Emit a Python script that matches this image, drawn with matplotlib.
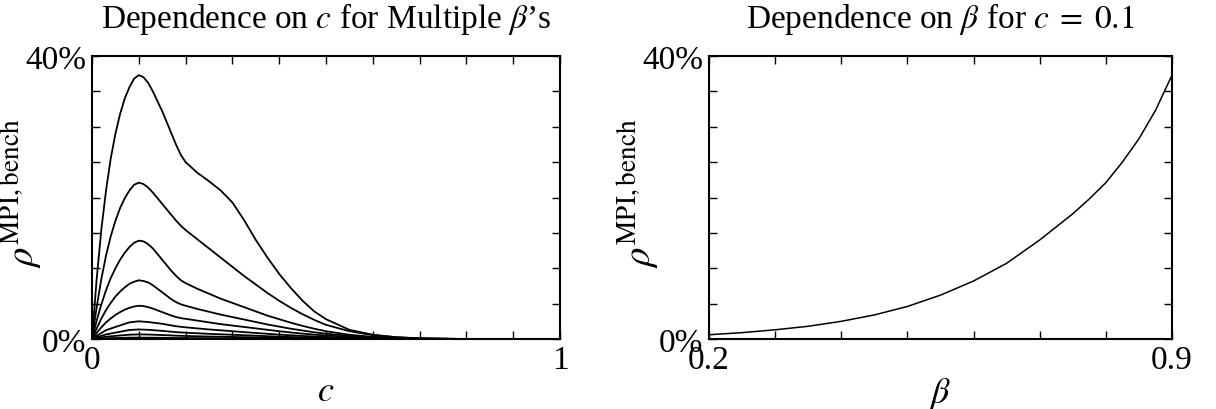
import numpy as np
import matplotlib
matplotlib.use("Agg")
import matplotlib.pyplot as plt
from matplotlib.ticker import FixedLocator, MultipleLocator

plt.rcParams['font.family'] = ['Liberation Serif', 'DejaVu Serif']
plt.rcParams['mathtext.fontset'] = 'stix'

# left panel: rho (%) vs c, one curve per beta (0.9 at the top ... 0.1 at the bottom)
c_fine = [0, 0.01, 0.02, 0.03, 0.04, 0.05, 0.06, 0.07, 0.08, 0.09, 0.1,
          0.11, 0.12, 0.13, 0.14, 0.15, 0.16, 0.17, 0.18, 0.19, 0.2,
          0.225, 0.25, 0.275, 0.3, 0.325, 0.35, 0.375, 0.4, 0.425, 0.45,
          0.475, 0.5, 0.55, 0.6, 0.65, 0.7, 0.8, 1.0]
rho_b09 = [0, 8.5, 15.5, 21.0, 25.5, 29.0, 31.8, 34.0, 35.6, 36.8, 37.3,
           37.0, 36.2, 35.0, 33.6, 32.2, 30.6, 29.0, 27.4, 26.0, 25.0,
           23.5, 22.3, 21.0, 19.3, 16.8, 14.0, 11.5, 9.2, 7.2, 5.4,
           3.9, 2.8, 1.3, 0.6, 0.25, 0.08, 0, 0]
rho_b08 = [0, 4.5, 8.5, 11.8, 14.5, 16.7, 18.5, 19.9, 21.0, 21.8, 22.1,
           21.9, 21.4, 20.7, 19.9, 19.1, 18.3, 17.5, 16.7, 16.0, 15.4,
           14.1, 12.8, 11.5, 10.2, 8.9, 7.7, 6.5, 5.4, 4.4, 3.5,
           2.7, 2.0, 1.1, 0.55, 0.25, 0.1, 0, 0]
rho_b07 = [0, 2.6, 4.9, 6.9, 8.6, 10.0, 11.2, 12.2, 13.0, 13.6, 13.9,
           13.8, 13.4, 12.8, 12.0, 11.2, 10.4, 9.6, 8.9, 8.3, 7.9,
           7.1, 6.4, 5.7, 5.1, 4.5, 3.9, 3.3, 2.8, 2.3, 1.85,
           1.45, 1.1, 0.6, 0.3, 0.14, 0.05, 0, 0]
rho_b06 = [0, 1.5, 2.9, 4.1, 5.1, 6.0, 6.7, 7.3, 7.8, 8.1, 8.3,
           8.2, 8.0, 7.6, 7.1, 6.6, 6.1, 5.6, 5.2, 4.9, 4.7,
           4.25, 3.85, 3.45, 3.1, 2.75, 2.4, 2.05, 1.75, 1.45, 1.2,
           0.95, 0.75, 0.45, 0.25, 0.1, 0.04, 0, 0]
rho_b05 = [0, 0.85, 1.65, 2.35, 2.9, 3.4, 3.8, 4.15, 4.4, 4.6, 4.7,
           4.65, 4.5, 4.3, 4.05, 3.8, 3.55, 3.3, 3.1, 2.95, 2.85,
           2.6, 2.35, 2.1, 1.9, 1.7, 1.5, 1.3, 1.1, 0.92, 0.76,
           0.62, 0.5, 0.3, 0.15, 0.07, 0.03, 0, 0]

c_coarse = [0, 0.01, 0.02, 0.03, 0.05, 0.08, 0.1, 0.12, 0.15, 0.18, 0.2,
            0.25, 0.3, 0.35, 0.4, 0.45, 0.5, 0.55, 0.6, 0.65, 0.7, 0.8, 1.0]
rho_b04 = [0, 0.45, 0.85, 1.25, 1.7, 2.35, 2.5, 2.4, 2.15, 1.8, 1.65,
           1.35, 1.1, 0.85, 0.62, 0.43, 0.28, 0.17, 0.09, 0.04, 0.02, 0, 0]
rho_b03 = [0, 0.24, 0.45, 0.65, 0.9, 1.27, 1.35, 1.3, 1.15, 0.97, 0.89,
           0.73, 0.6, 0.46, 0.33, 0.23, 0.15, 0.09, 0.05, 0.02, 0.01, 0, 0]
rho_b02 = [0, 0.12, 0.22, 0.32, 0.44, 0.61, 0.65, 0.63, 0.56, 0.47, 0.43,
           0.35, 0.29, 0.22, 0.16, 0.11, 0.07, 0.04, 0.02, 0.01, 0, 0, 0]
rho_b01 = [0, 0.04, 0.07, 0.1, 0.14, 0.19, 0.2, 0.19, 0.17, 0.14, 0.13,
           0.11, 0.09, 0.07, 0.05, 0.03, 0.02, 0.01, 0, 0, 0, 0, 0]

fine_curves = [rho_b09, rho_b08, rho_b07, rho_b06, rho_b05]
coarse_curves = [rho_b04, rho_b03, rho_b02, rho_b01]

# right panel: rho (%) vs beta at c = 0.1
beta_grid = [0.2, 0.25, 0.3, 0.35, 0.4, 0.45, 0.5, 0.55, 0.6, 0.65, 0.7,
             0.75, 0.775, 0.8, 0.825, 0.85, 0.875, 0.9]
rho_c01 = [0.6, 0.9, 1.3, 1.8, 2.5, 3.4, 4.6, 6.2, 8.2, 10.7, 14.0,
           17.7, 19.8, 22.1, 25.0, 28.3, 32.3, 37.3]

W, H = 1216, 410
fig = plt.figure(figsize=(W / 100, H / 100), dpi=100)
ax1 = fig.add_axes([92 / W, 1 - 340 / H, (560 - 92) / W, (340 - 57) / H])
ax2 = fig.add_axes([709 / W, 1 - 340 / H, (1172 - 709) / W, (340 - 57) / H])

for y in fine_curves:
    ax1.plot(c_fine, y, color='black', lw=1.3)
for y in coarse_curves:
    ax1.plot(c_coarse, y, color='black', lw=1.3)
ax2.plot(beta_grid, rho_c01, color='black', lw=1.1)


def style(ax, xlo, xhi, xstep, xlabels):
    ax.set_xlim(xlo, xhi)
    ax.set_ylim(0, 40)
    ax.xaxis.set_major_locator(FixedLocator([xlo, xhi]))
    ax.set_xticklabels(xlabels)
    ax.xaxis.set_minor_locator(MultipleLocator(xstep))
    ax.yaxis.set_major_locator(FixedLocator([0, 40]))
    ax.set_yticklabels(['0%', '40%'])
    ax.yaxis.set_minor_locator(MultipleLocator(5))
    ax.tick_params(which='both', direction='in', top=True, right=True,
                   length=6, width=1, labelsize=24, pad=4)
    for s in ax.spines.values():
        s.set_linewidth(1.5)
    ax.set_ylabel(r'$\rho^{\mathrm{MPI,bench}}$', fontsize=28)
    w = ax.get_position().width * W
    ax.yaxis.set_label_coords(-48 / w, 0.52)


style(ax1, 0, 1, 0.1, ['0', '1'])
style(ax2, 0.2, 0.9, 0.1, ['0.2', '0.9'])
ax1.set_xlabel(r'$c$', fontsize=26, labelpad=0)
ax2.set_xlabel(r'$\beta$', fontsize=26, labelpad=0)
ax1.set_title("Dependence on $c$ for Multiple $\\beta$\u2019s", fontsize=24, pad=21)
ax2.set_title(r"Dependence on $\beta$ for $c\;=\;0.1$", fontsize=24, pad=21)

fig.savefig('out.png', dpi=100)
